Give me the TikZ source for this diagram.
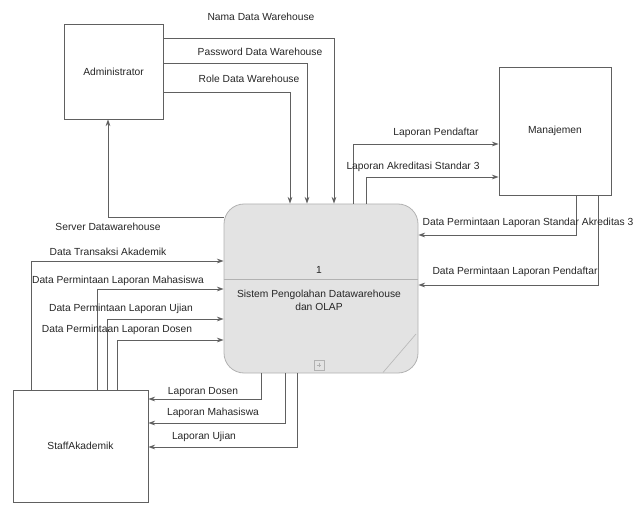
\documentclass[tikz,border=0pt]{standalone}
\usepackage{fontspec}
\setmainfont{Liberation Sans}
\usetikzlibrary{arrows.meta}
\begin{document}
\begin{tikzpicture}[x=0.75pt,y=-0.75pt, font=\fontsize{7.7}{9.5}\selectfont,
 box/.style={draw=gray!75!black, line width=0.6pt, fill=white},
 flow/.style={draw=gray!75!black, line width=0.6pt, -{Stealth[length=5pt,width=3.5pt]}},
 lbl/.style={inner sep=0pt, text=black!85}]
\useasboundingbox (0,0) rectangle (642,520);
% external entities
\node[box, minimum width=74.25pt, minimum height=71.25pt, text=black!85] (adm) at (113.5,71.5) {Administrator};
\node[box, minimum width=84pt, minimum height=96pt, text=black!85] (man) at (555,131) {Manajemen};
\node[box, minimum width=101.25pt, minimum height=84pt, text=black!85] (staff) at (80.5,446) {StaffAkademik};
% process
\node[draw=gray!60, fill=gray!22, line width=0.6pt, rounded corners=15pt, minimum width=145.5pt, minimum height=126.75pt] (p) at (321,288.5) {};
\draw[gray!60, line width=0.5pt] (p.west |- 0,279) -- (p.east |- 0,279);
\node[lbl] (pnum) at (319,270) {1};
\node[lbl, align=center] (ptext) at (319,300) {Sistem Pengolahan Datawarehouse\\dan OLAP};
\node[draw=gray!60, fill=gray!22, minimum size=7.5pt, inner sep=0pt] (plus) at (319,365) {};
\draw[gray!60, line width=0.4pt] ([yshift=-2.2pt]plus.north) -- ([yshift=2.2pt]plus.south);
\draw[gray!60, line width=0.4pt] ([xshift=2.2pt]plus.west) -- ([xshift=-2.2pt]plus.east);
\draw[gray!55, line width=0.5pt] (383,372.5) -- (416,334);
% Administrator flows
\draw[flow] (adm.east |- 0,38) -| (p.north -| 334,0);
\draw[flow] (adm.east |- 0,63) -| (p.north -| 307,0);
\draw[flow] (adm.east |- 0,92) -| (p.north -| 290,0);
\draw[flow] (p.west |- 0,217) -| (adm.south -| 108,0);
\node[lbl] (l1) at (261,17) {Nama Data Warehouse};
\node[lbl] (l2) at (260,52) {Password Data Warehouse};
\node[lbl] (l3) at (249,79) {Role Data Warehouse};
\node[lbl] (l4) at (108,227) {Server Datawarehouse};
% Manajemen flows
\draw[flow] (p.north -| 353,0) |- (man.west |- 0,144);
\draw[flow] (p.north -| 366,0) |- (man.west |- 0,177);
\draw[flow] (man.south -| 576,0) |- (p.east |- 0,235);
\draw[flow] (man.south -| 598,0) |- (p.east |- 0,285);
\node[lbl] (l5) at (436,133) {Laporan Pendaftar};
\node[lbl] (l6) at (413,167) {Laporan Akreditasi Standar 3};
\node[lbl] (l7) at (528,223) {Data Permintaan Laporan Standar Akreditas 3};
\node[lbl] (l8) at (515,272) {Data Permintaan Laporan Pendaftar};
% Staff flows
\draw[flow] (staff.north -| 31,0) |- (p.west |- 0,261);
\draw[flow] (staff.north -| 97,0) |- (p.west |- 0,289);
\draw[flow] (staff.north -| 107,0) |- (p.west |- 0,319);
\draw[flow] (staff.north -| 117,0) |- (p.west |- 0,340);
\draw[flow] (p.south -| 261,0) |- (staff.east |- 0,399);
\draw[flow] (p.south -| 285,0) |- (staff.east |- 0,423);
\draw[flow] (p.south -| 297,0) |- (staff.east |- 0,447);
\node[lbl] (l9) at (108,252) {Data Transaksi Akademik};
\node[lbl] (l10) at (118,281) {Data Permintaan Laporan Mahasiswa};
\node[lbl] (l11) at (121,309) {Data Permintaan Laporan Ujian};
\node[lbl] (l12) at (117,330) {Data Permintaan Laporan Dosen};
\node[lbl] (l13) at (203,392) {Laporan Dosen};
\node[lbl] (l14) at (213,413) {Laporan Mahasiswa};
\node[lbl] (l15) at (204,437) {Laporan Ujian};
\end{tikzpicture}
\end{document}
